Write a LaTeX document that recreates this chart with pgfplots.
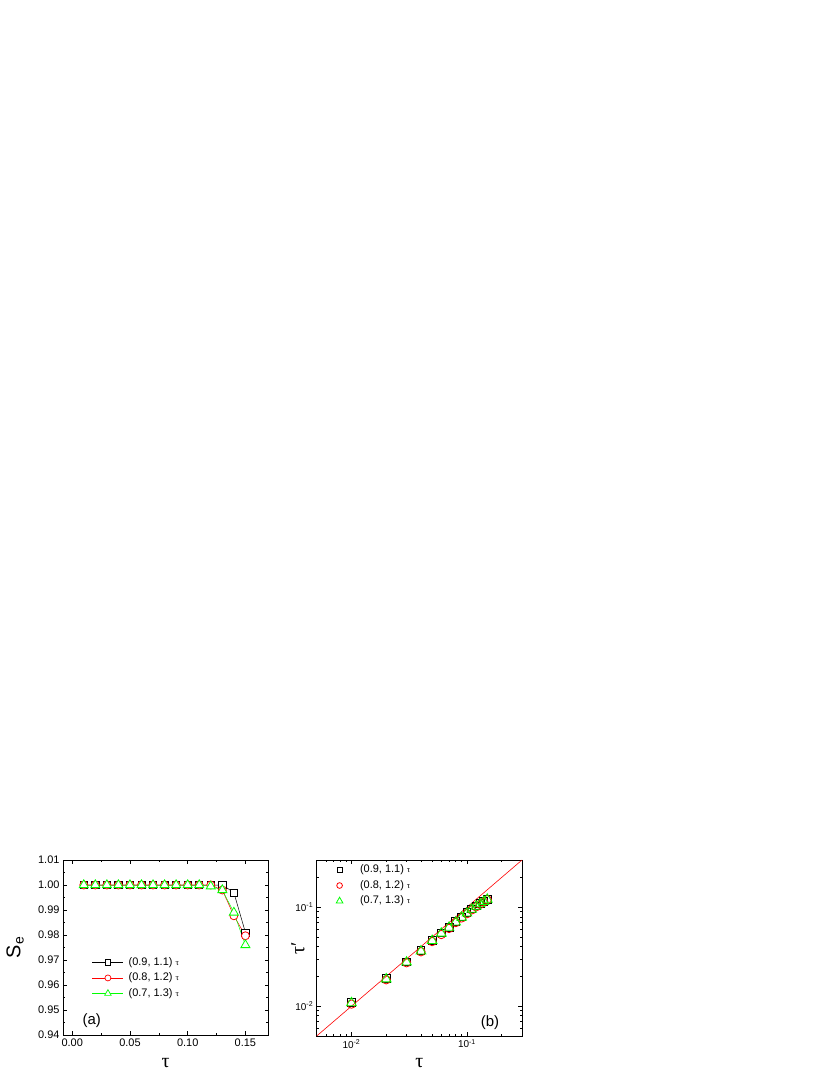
\documentclass[border=0pt]{standalone}
\usepackage{pgfplots}
\pgfplotsset{compat=1.18}
\usepackage{fontspec}
\setmainfont{Liberation Sans}
\newfontfamily\symf{Liberation Serif}
\definecolor{cgreen}{RGB}{0,255,0}
\definecolor{cred}{RGB}{255,0,0}
\pgfplotsset{
  common/.style={
    scale only axis,
    axis line style={line width=1bp},
    tick align=inside,
    major tick length=4bp,
    minor tick length=2.2bp,
    every tick/.style={black, line width=0.6bp},
    ticklabel style={font=\fontsize{11}{13}\selectfont},
    /pgf/number format/assume math mode=true,
    label style={font=\fontsize{20}{22}\selectfont},
    clip=false,
  },
  aleg/.style={only marks, legend image code/.code={%
    \draw[##1, mark=none] (0bp,0bp) -- (31bp,0bp);
    \draw[##1] plot coordinates {(15.5bp,0bp)};}},
  bleg/.style={legend image code/.code={%
    \path[draw=none] (0bp,0bp) -- (20bp,0bp);
    \draw[##1, every mark/.append style={scale=0.68}] plot coordinates {(4bp,0bp)};}},
}
\newcommand{\tl}{{\symf\fontsize{8.5}{10}\selectfont τ}}
\newcommand{\ga}{\hspace*{2.5bp}}
\newcommand{\gb}{\hspace*{2bp}}
\begin{document}
\begin{tikzpicture}
\path[use as bounding box] (0bp,0bp) rectangle (830bp,1075bp);
% ---------------- panel (a)
\begin{axis}[common,
  at={(63bp,40bp)}, anchor=south west,
  width=205.5bp, height=175bp,
  xmin=-0.008, xmax=0.17, ymin=0.94, ymax=1.01,
  xtick={0,0.05,0.1,0.15}, minor x tick num=1,
  ytick={0.94,0.95,0.96,0.97,0.98,0.99,1.00,1.01}, minor y tick num=1,
  xticklabel style={/pgf/number format/.cd, fixed, fixed zerofill, precision=2},
  yticklabel style={/pgf/number format/.cd, fixed, fixed zerofill, precision=2},
  xlabel={\symf τ}, ylabel={S\textsubscript{e}},
  xlabel style={at={(axis description cs:0.5,-0.16)}, anchor=center},
  ylabel style={at={(axis description cs:-0.233,0.5)}, anchor=center},
  legend cell align=left,
  legend style={draw=none, fill=none, at={(axis description cs:0.141,0.326)}, anchor=west,
    inner sep=0pt, row sep=0pt,
    nodes={inner sep=2.5bp, text height=8bp, text depth=2.5bp, font=\fontsize{11}{13}\selectfont}},
]
\addlegendimage{black, line width=0.5bp, mark=square*, mark size=2.6bp, mark options={line width=0.7bp, fill=white}, aleg}
\addlegendentry{\ga(0.9, 1.1) \tl}
\addlegendimage{cred, line width=0.5bp, mark=*, mark size=3bp, mark options={line width=0.7bp, fill=white}, aleg}
\addlegendentry{\ga(0.8, 1.2) \tl}
\addlegendimage{cgreen, line width=0.5bp, mark=triangle*, mark size=3.8bp, mark options={line width=0.7bp, fill=white}, aleg}
\addlegendentry{\ga(0.7, 1.3) \tl}
\addplot[black, line width=0.5bp, mark=square*, mark size=3.6bp, mark options={line width=0.8bp, fill=white}, forget plot] coordinates {
(0.01,1.0)(0.02,1.0)(0.03,1.0)(0.04,1.0)(0.05,1.0)(0.06,1.0)(0.07,1.0)(0.08,1.0)(0.09,1.0)(0.10,1.0)(0.11,1.0)(0.12,1.0)(0.13,1.0)(0.14,0.997)(0.15,0.981)};
\addplot[cred, line width=0.5bp, mark=*, mark size=4bp, mark options={line width=0.8bp, fill=white}, forget plot] coordinates {
(0.01,1.0)(0.02,1.0)(0.03,1.0)(0.04,1.0)(0.05,1.0)(0.06,1.0)(0.07,1.0)(0.08,1.0)(0.09,1.0)(0.10,1.0)(0.11,1.0)(0.12,1.0)(0.13,0.998)(0.14,0.9877)(0.15,0.9797)};
\addplot[cgreen, line width=0.5bp, mark=triangle*, mark size=5.2bp, mark options={line width=0.8bp, fill=white}, forget plot] coordinates {
(0.01,1.0)(0.02,1.0)(0.03,1.0)(0.04,1.0)(0.05,1.0)(0.06,1.0)(0.07,1.0)(0.08,1.0)(0.09,1.0)(0.10,1.0)(0.11,1.0)(0.12,0.9995)(0.13,0.998)(0.14,0.989)(0.15,0.976)};
\node[font=\fontsize{15}{17}\selectfont, anchor=center] at (axis description cs:0.14,0.08) {(a)};
\end{axis}
% ---------------- panel (b)
\begin{axis}[common,
  at={(316.7bp,39bp)}, anchor=south west,
  width=205.3bp, height=176bp,
  xmode=log, ymode=log,
  xmin=0.005, xmax=0.3, ymin=0.005, ymax=0.3,
  xtick={0.01,0.1}, xticklabels={10\textsuperscript{-2},10\textsuperscript{-1}},
  ytick={0.01,0.1}, yticklabels={10\textsuperscript{-2},10\textsuperscript{-1}},
  minor xtick={0.005,0.006,0.007,0.008,0.009,0.02,0.03,0.04,0.05,0.06,0.07,0.08,0.09,0.2,0.3},
  minor ytick={0.005,0.006,0.007,0.008,0.009,0.02,0.03,0.04,0.05,0.06,0.07,0.08,0.09,0.2,0.3},
  ticklabel style={font=\fontsize{10}{12}\selectfont},
  xlabel={\symf τ}, ylabel={\symf τ′},
  xlabel style={at={(axis description cs:0.5,-0.153)}, anchor=center},
  ylabel style={at={(axis description cs:-0.091,0.5)}, anchor=center},
  legend cell align=left,
  legend style={draw=none, fill=none, at={(axis description cs:0.091,0.855)}, anchor=west,
    inner sep=0pt, row sep=0pt,
    nodes={inner sep=2.5bp, text height=8bp, text depth=2.5bp, font=\fontsize{11}{13}\selectfont}},
]
\addplot[cred, line width=0.6bp, forget plot] coordinates {(0.005,0.005) (0.3,0.3)};
\addplot[black, only marks, mark=square, mark size=3.9bp, mark options={line width=0.8bp, fill=none}, bleg] coordinates {
(0.01,0.011)(0.02,0.019)(0.03,0.028)(0.04,0.0365)(0.05,0.0465)(0.06,0.055)(0.07,0.063)(0.08,0.072)(0.09,0.080)(0.10,0.088)(0.11,0.096)(0.12,0.103)(0.13,0.109)(0.14,0.115)(0.15,0.120)};
\addlegendentry{\gb(0.9, 1.1) \tl}
\addplot[cred, only marks, mark=o, mark size=4.2bp, mark options={line width=0.8bp, fill=none}, bleg] coordinates {
(0.01,0.0105)(0.02,0.0185)(0.03,0.0275)(0.04,0.0355)(0.05,0.045)(0.06,0.053)(0.07,0.061)(0.08,0.070)(0.09,0.078)(0.10,0.086)(0.11,0.094)(0.12,0.101)(0.13,0.107)(0.14,0.113)(0.15,0.119)};
\addlegendentry{\gb(0.8, 1.2) \tl}
\addplot[cgreen, only marks, mark=triangle, mark size=5.6bp, mark options={line width=0.8bp, fill=none}, bleg] coordinates {
(0.01,0.0108)(0.02,0.0188)(0.03,0.0278)(0.04,0.036)(0.05,0.046)(0.06,0.0545)(0.07,0.0625)(0.08,0.0705)(0.09,0.079)(0.10,0.087)(0.11,0.095)(0.12,0.102)(0.13,0.108)(0.14,0.114)(0.15,0.120)};
\addlegendentry{\gb(0.7, 1.3) \tl}
\node[font=\fontsize{15}{17}\selectfont, anchor=center] at (axis description cs:0.844,0.074) {(b)};
\end{axis}
\end{tikzpicture}
\end{document}
